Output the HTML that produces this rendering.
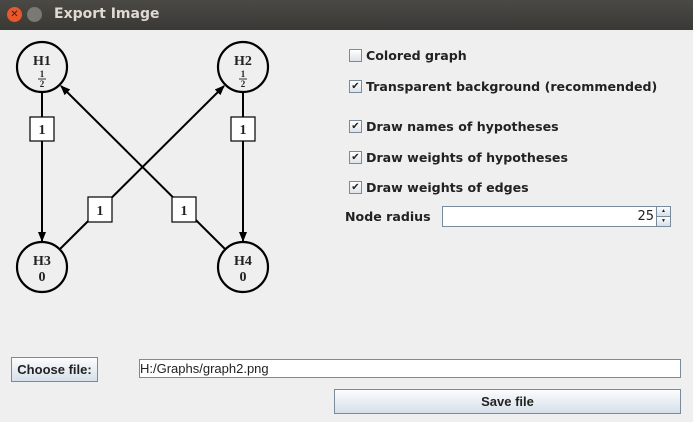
<!DOCTYPE html>
<html><head><style>
body{margin:0;width:693px;height:422px;background:#efefef;font-family:"DejaVu Sans","Liberation Sans",sans-serif;position:relative;overflow:hidden}
.t{position:absolute;left:0;top:0;width:693px;height:30px;background:linear-gradient(#4a4944,#3a3935);}
.tt{position:absolute;left:54px;top:6px;color:#dfdbd2;font-weight:bold;font-size:14px}
.cb{position:absolute;left:349px;width:11px;height:11px;border:1px solid #7a8a99;background:linear-gradient(#fff,#dde3ea);font-size:10px;line-height:11px;text-align:center;color:#222}
.lb{position:absolute;left:366px;font-size:12.6px;font-weight:bold;color:#222}
.btn{position:absolute;border:1px solid #7a8a9a;background:linear-gradient(#fbfcfd,#d6e0ea);font-size:13px;font-weight:bold;text-align:center;color:#222;font-family:"Liberation Sans",sans-serif}
.f{position:absolute;background:#fff;border:1px solid #7a8a9a}
</style></head><body>
<div class="t"></div>
<div style="position:absolute;left:7px;top:7px;width:15px;height:15px;border-radius:50%;background:#e8582a;color:#3a2020;font-size:10px;line-height:15px;text-align:center">✕</div>
<div style="position:absolute;left:27px;top:7px;width:15px;height:15px;border-radius:50%;background:#7a7974"></div>
<div class="tt">Export Image</div>
<svg style="position:absolute;left:0;top:0" width="300" height="300" font-family="Liberation Serif,serif" font-weight="bold">
<defs><marker id="a" markerWidth="10" markerHeight="8" refX="9" refY="4" orient="auto" markerUnits="userSpaceOnUse"><path d="M0,0L10,4L0,8z" fill="#000"/></marker></defs>
<g stroke="#000" stroke-width="2" fill="none">
<line x1="42" y1="92" x2="42" y2="241" marker-end="url(#a)"/>
<line x1="243" y1="92" x2="243" y2="241" marker-end="url(#a)"/>
<line x1="60" y1="249" x2="224" y2="86" marker-end="url(#a)"/>
<line x1="225" y1="249" x2="61" y2="86" marker-end="url(#a)"/>
<circle cx="42" cy="67" r="25" stroke-width="2.2"/><circle cx="243" cy="67" r="25" stroke-width="2.2"/>
<circle cx="42" cy="267" r="25" stroke-width="2.2"/><circle cx="243" cy="267" r="25" stroke-width="2.2"/>
</g>
<g fill="#fff" stroke="#000" stroke-width="1.2">
<rect x="30" y="117" width="24" height="24"/><rect x="231" y="117" width="24" height="24"/>
<rect x="88" y="197" width="24" height="25"/><rect x="172" y="197" width="24" height="25"/>
</g>
<g font-size="14" text-anchor="middle" fill="#222">
<text x="42" y="65">H1</text><text x="243" y="65">H2</text>
<text x="42" y="265">H3</text><text x="243" y="265">H4</text>
<text x="42" y="281">0</text><text x="243" y="281">0</text>
<text x="42" y="134">1</text><text x="243" y="134">1</text>
<text x="100" y="215">1</text><text x="184" y="215">1</text>
<g font-size="9"><text x="42" y="77">1</text><text x="42" y="87">2</text><text x="243" y="77">1</text><text x="243" y="87">2</text></g>
</g>
<g stroke="#000" stroke-width="0.8"><line x1="38" y1="79" x2="46" y2="79"/><line x1="239" y1="79" x2="247" y2="79"/></g>
</svg>
<div class="cb" style="top:49px"></div><div class="lb" style="top:48px">Colored graph</div>
<div class="cb" style="top:80px">✔</div><div class="lb" style="top:79px">Transparent background (recommended)</div>
<div class="cb" style="top:120px">✔</div><div class="lb" style="top:119px">Draw names of hypotheses</div>
<div class="cb" style="top:151px">✔</div><div class="lb" style="top:150px">Draw weights of hypotheses</div>
<div class="cb" style="top:181px">✔</div><div class="lb" style="top:180px">Draw weights of edges</div>
<div class="lb" style="left:345px;top:209px">Node radius</div>
<div class="f" style="left:442px;top:206px;width:213px;height:19px;font-size:13px;text-align:right;line-height:19px;color:#222"><span style="padding-right:2px">25</span></div>
<div class="btn" style="left:656px;top:206px;width:13px;height:9px;font-size:5px;line-height:9px">▲</div>
<div class="btn" style="left:656px;top:216px;width:13px;height:9px;font-size:5px;line-height:9px">▼</div>
<div class="btn" style="left:11px;top:357px;width:85px;height:23px;line-height:23px">Choose file:</div>
<div class="f" style="left:139px;top:359px;width:540px;height:17px;font-size:13px;line-height:17px;color:#222;font-family:'Liberation Sans',sans-serif">H:/Graphs/graph2.png</div>
<div class="btn" style="left:334px;top:389px;width:345px;height:23px;line-height:23px">Save file</div>
</body></html>
